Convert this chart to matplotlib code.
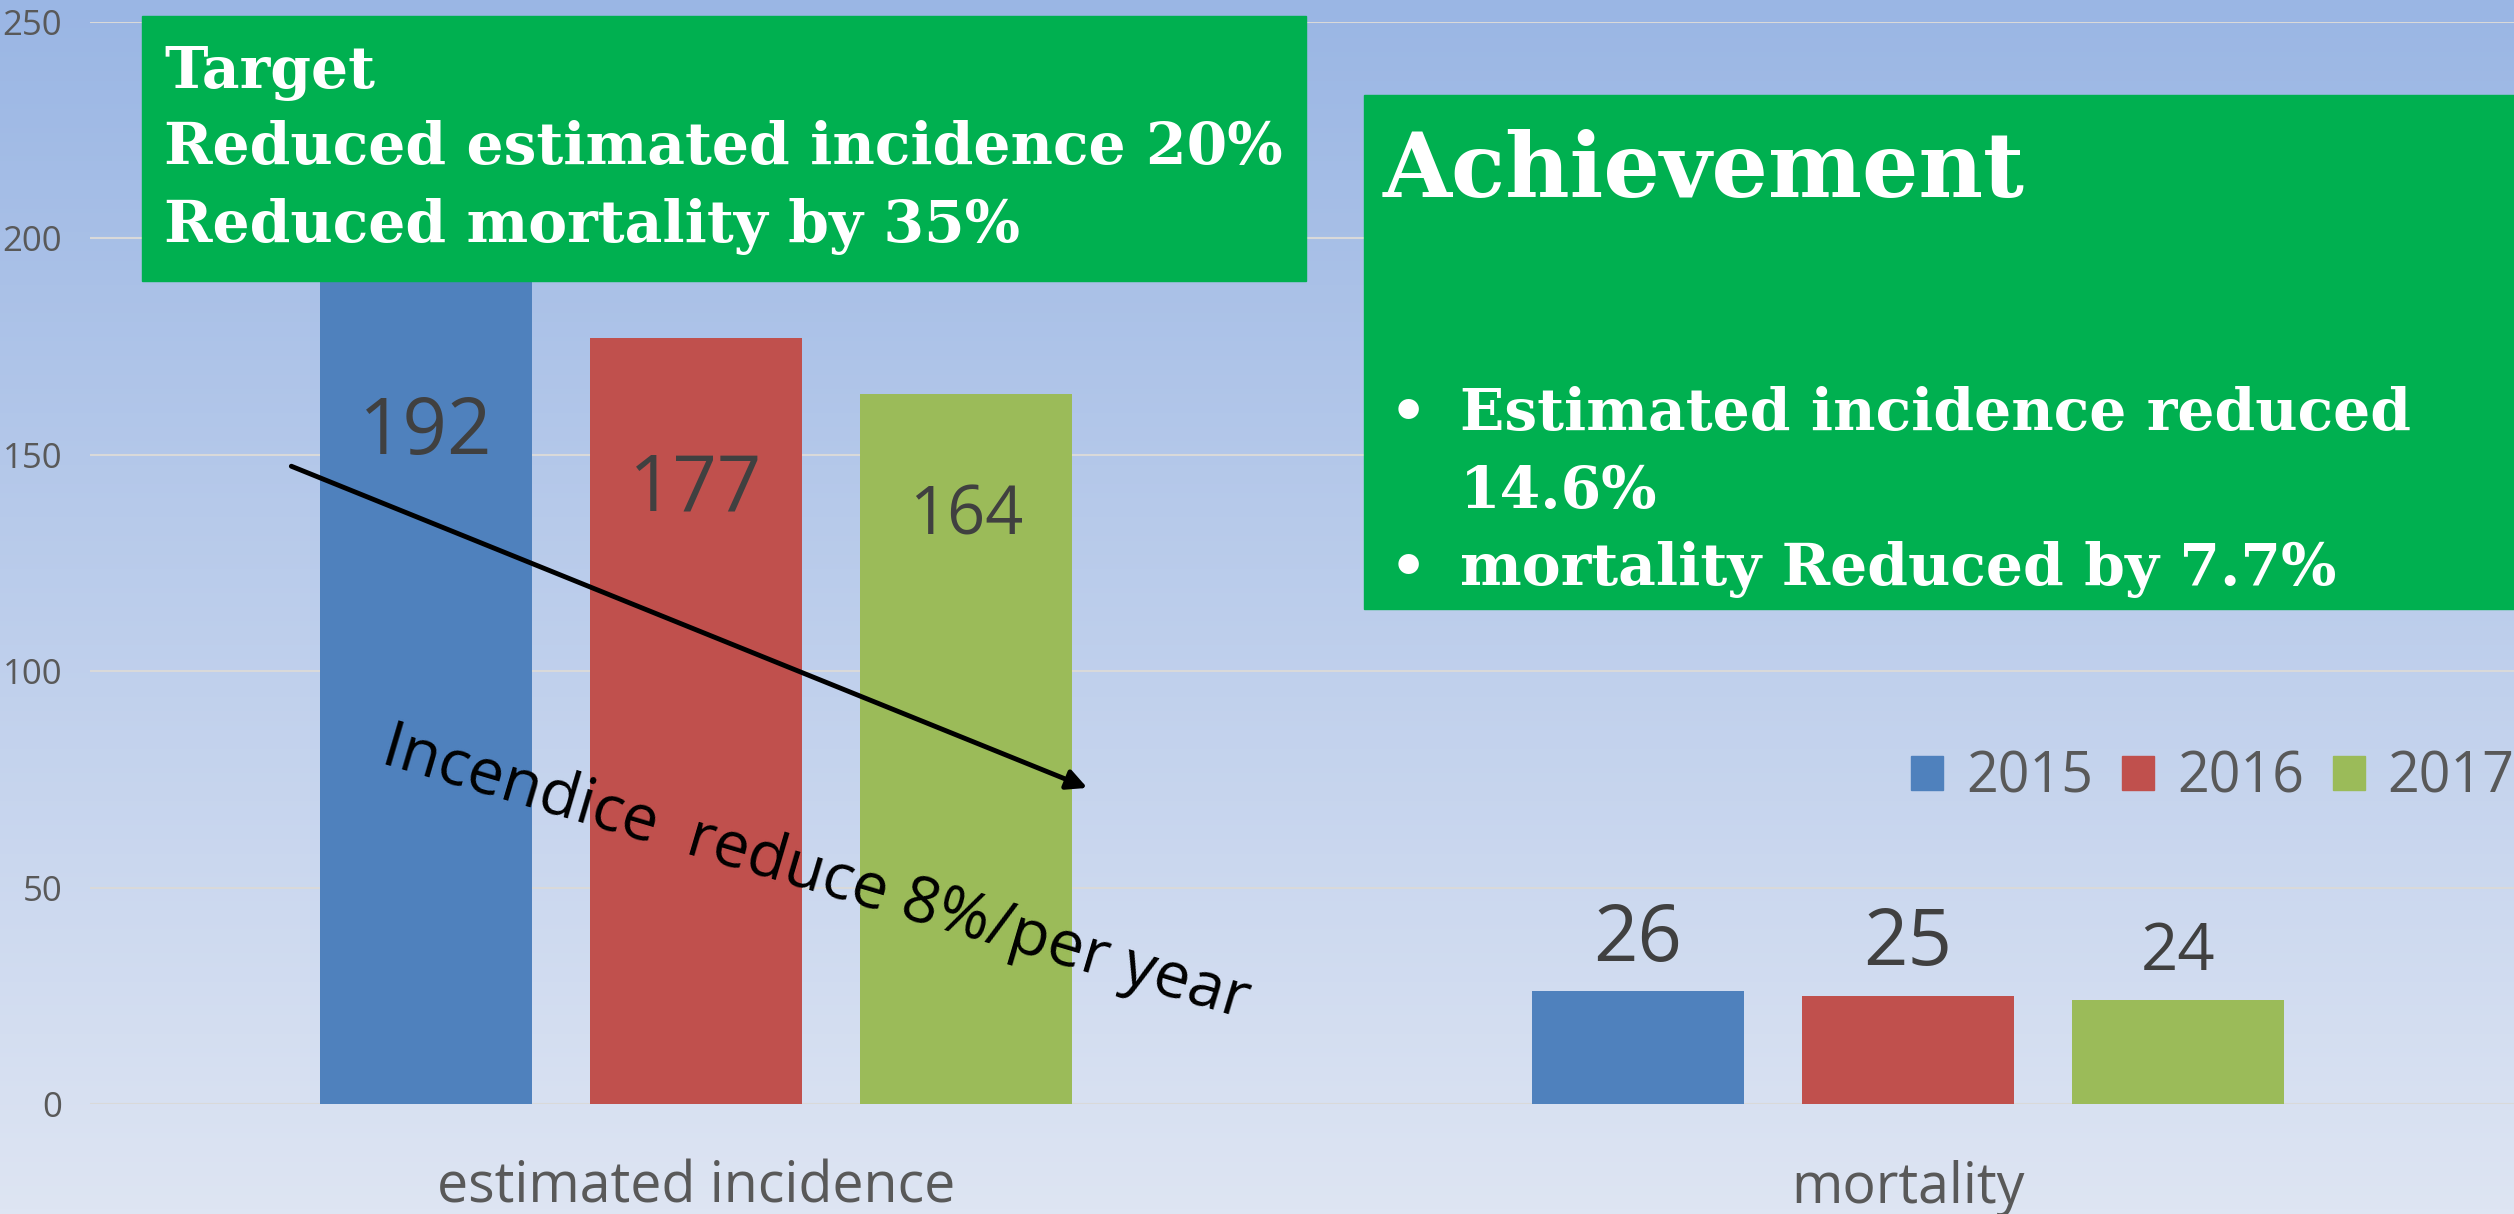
import numpy as np
import matplotlib.pyplot as plt
from matplotlib.patches import Patch, Rectangle
from matplotlib.colors import to_rgb

plt.rcParams["font.family"] = ["Open Sans", "DejaVu Sans"]

categories = ["estimated incidence", "mortality"]
years = ["2015", "2016", "2017"]
incidence = [192, 177, 164]
mortality = [26, 25, 24]
y_ticks = [0, 50, 100, 150, 200, 250]

target_lines = ["Target", "Reduced estimated incidence 20%", "Reduced mortality by 35%"]
achievement_title = "Achievement"
achievement_points = ["Estimated incidence reduced", "14.6%", "mortality Reduced by 7.7%"]
trend_note = "Incendice  reduce 8%/per year"

colors = ["#4f81bd", "#c0504d", "#9bbb59"]
# label styling (size in pt, baseline offset from bar top in pt)
inc_label_size = [56, 56, 48]
inc_label_off = [-130, -124, -101]
mort_label_size = [56, 56, 47]
mort_label_off = [22, 22, 22]

W, H = 2514, 1214
fig = plt.figure(figsize=(W / 100, H / 100), dpi=100)


def fx(px):
    return px / W


def fy(py):
    return 1 - py / H


# gradient background
bg = fig.add_axes([0, 0, 1, 1], zorder=0)
top, bottom = np.array(to_rgb("#9ab6e4")), np.array(to_rgb("#dee5f3"))
t = np.linspace(0, 1, 256)[:, None]
grad = top + (bottom - top) * t
bg.imshow(grad[:, None, :], aspect="auto", extent=[0, 1, 0, 1])
bg.axis("off")

ax = fig.add_axes([fx(90), fy(1104), 1 - fx(90), (1104 - 22) / H], zorder=1)
ax.set_facecolor("none")

x = np.arange(len(categories))
width = 0.175
step = 0.2228
for i, year in enumerate(years):
    vals = [incidence[i], mortality[i]]
    pos = x + (i - 1) * step
    ax.bar(pos, vals, width, color=colors[i], zorder=2)
    ax.annotate(str(vals[0]), (pos[0], vals[0]), xytext=(0, inc_label_off[i]),
                textcoords="offset points", ha="center", va="baseline",
                fontsize=inc_label_size[i], color="#404040", zorder=3)
    ax.annotate(str(vals[1]), (pos[1], vals[1]), xytext=(0, mort_label_off[i]),
                textcoords="offset points", ha="center", va="baseline",
                fontsize=mort_label_size[i], color="#404040", zorder=3)

ax.set_xlim(-0.5, 1.5)
ax.set_ylim(0, 250)
ax.set_yticks(y_ticks)
ax.set_xticks(x, categories)
ax.grid(axis="y", color="#d9d9d9", lw=1.5)
ax.set_axisbelow(True)
for s in ax.spines.values():
    s.set_visible(False)
ax.tick_params(axis="y", length=0, pad=20, labelsize=25, labelcolor="#595959")
ax.tick_params(axis="x", length=0, pad=40, labelsize=40, labelcolor="#595959")

# trend arrow and note
ax.annotate("", xy=(0.325, 72.8), xytext=(-0.336, 147.6),
            arrowprops=dict(arrowstyle="-|>", lw=3.5, color="black", mutation_scale=30),
            zorder=4)
ax.text(0.095, 49.4, trend_note, rotation=-16.5, rotation_mode="anchor",
        ha="center", va="baseline", fontsize=46, color="black", zorder=4)

# legend
handles = [Patch(color=c) for c in colors]
fig.legend(handles, years, loc="center left", bbox_to_anchor=(fx(1911), fy(778)),
           ncol=3, frameon=False, fontsize=40, labelcolor="#595959",
           handlelength=0.58, handleheight=0.58, handletextpad=0.41,
           columnspacing=0.52, borderpad=0, borderaxespad=0)

# green boxes
green = "#00b050"
fig.add_artist(Rectangle((fx(142), fy(281)), fx(1306) - fx(142), (281 - 16) / H,
                         transform=fig.transFigure, color=green, zorder=3))
fig.add_artist(Rectangle((fx(1364), fy(609)), 1.0, (609 - 95) / H,
                         transform=fig.transFigure, color=green, zorder=3))

serif = dict(family="DejaVu Serif", weight="bold", color="white", va="baseline", zorder=4)
for line, yb in zip(target_lines, [88, 164, 242]):
    fig.text(fx(164), fy(yb), line, size=42, **serif)

fig.text(fx(1383), fy(197), achievement_title, size=64, **serif)
for line, yb in zip(achievement_points, [430, 508, 585]):
    fig.text(fx(1460), fy(yb), line, size=42, **serif)
for yb in [430, 585]:
    fig.text(fx(1390), fy(yb), "\u2022", size=42, **serif)

fig.savefig("out.png", dpi=100)
